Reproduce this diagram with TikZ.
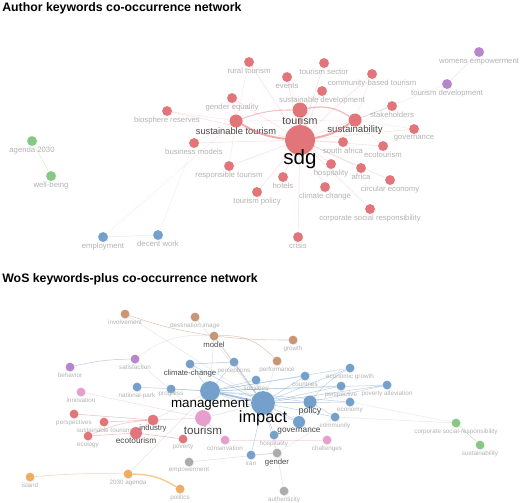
\documentclass[tikz,border=0pt]{standalone}
\usepackage{fontspec}
\setmainfont{Liberation Sans}
\usepackage{xcolor}
\usetikzlibrary{shadows}

\definecolor{kwred}{RGB}{224,104,108}
\definecolor{kwblue}{RGB}{104,152,200}
\definecolor{kwgreen}{RGB}{124,196,120}
\definecolor{kwpurple}{RGB}{178,122,200}
\definecolor{kworange}{RGB}{240,166,80}
\definecolor{kwbrown}{RGB}{196,140,104}
\definecolor{kwpink}{RGB}{230,150,200}
\definecolor{kwgray}{RGB}{165,165,165}
\definecolor{labgray}{RGB}{178,178,178}
\definecolor{labdark}{RGB}{70,70,70}

\tikzset{
  kw/.style={circle, inner sep=0pt, minimum size=#1, fill opacity=0.9,
    drop shadow={opacity=0.12, shadow xshift=0.5pt, shadow yshift=-0.5pt},
    label distance=-1.2pt},
  kw/.default=5.6pt,
  lab/.style={font=\fontsize{4.4}{5}\selectfont, text=labgray, inner sep=0.4pt},
  labs/.style={font=\fontsize{3.6}{4}\selectfont, text=labgray, inner sep=0.4pt},
  labm/.style={font=\fontsize{4.4}{5}\selectfont, text=labdark, inner sep=0.4pt},
  edge/.style={line width=0.3pt, draw opacity=#1},
  edge/.default=0.25,
  heading/.style={font=\bfseries\fontsize{7}{8}\selectfont, anchor=west, inner sep=0pt}
}

\begin{document}
\begin{tikzpicture}[x=0.02cm, y=-0.02cm]
  \useasboundingbox (0,0) rectangle (520,503);

  % ---------------- author keywords ----------------
  \node[heading] (title1) at (2,8) {Author keywords co-occurrence network};

  \node[kw=17pt, fill=kwred] (sdg) at (300,140) {};
  \node[kw=8.5pt, fill=kwred] (tou) at (300,110) {};
  \node[kw=7.4pt, fill=kwred] (sto) at (236,121) {};
  \node[kw=7.4pt, fill=kwred] (sus) at (355,120) {};
  \node[kw, fill=kwred, label={[lab]below:rural tourism}] (rur) at (249,62) {};
  \node[kw, fill=kwred, label={[lab]below:tourism sector}] (tse) at (324,63) {};
  \node[kw, fill=kwred, label={[lab]below:events}] (eve) at (287,77) {};
  \node[kw, fill=kwred, label={[lab]below:community-based tourism}] (cbt) at (372,74) {};
  \node[kw, fill=kwred, label={[lab]below:sustainable development}] (sde) at (322,91) {};
  \node[kw, fill=kwred, label={[lab]below:gender equality}] (geq) at (232,98) {};
  \node[kw, fill=kwred, label={[lab]below:biosphere reserves}] (bio) at (167,111) {};
  \node[kw, fill=kwred, label={[lab]below:stakeholders}] (stk) at (392,106) {};
  \node[kw, fill=kwred, label={[lab]below:governance}] (gov) at (414,129) {};
  \node[kw, fill=kwred, label={[lab]below:south africa}] (saf) at (343,142) {};
  \node[kw, fill=kwred, label={[lab]below:ecotourism}] (eco) at (383,146) {};
  \node[kw, fill=kwred, label={[lab]below:business models}] (bmo) at (194,143) {};
  \node[kw, fill=kwred, label={[lab]below:responsible tourism}] (rto) at (229,166) {};
  \node[kw, fill=kwred, label={[lab]below:tourism policy}] (tpo) at (257,192) {};
  \node[kw, fill=kwred, label={[lab]below:hotels}] (hot) at (283,177) {};
  \node[kw, fill=kwred, label={[lab]below:hospitality}] (hos) at (331,164) {};
  \node[kw, fill=kwred, label={[lab]below:africa}] (afr) at (361,168) {};
  \node[kw, fill=kwred, label={[lab]below:climate change}] (clc) at (325,187) {};
  \node[kw, fill=kwred, label={[lab]below:circular economy}] (cir) at (390,180) {};
  \node[kw, fill=kwred, label={[lab]below:corporate social responsibility}] (csr) at (370,209) {};
  \node[kw, fill=kwred, label={[lab]below:crisis}] (cri) at (298,237) {};
  \node[kw, fill=kwpurple, label={[lab]below:womens empowerment}] (wem) at (479,52) {};
  \node[kw, fill=kwpurple, label={[lab]below:tourism development}] (tde) at (447,84) {};
  \node[kw, fill=kwgreen, label={[lab]below:agenda 2030}] (a30) at (32,141) {};
  \node[kw, fill=kwgreen, label={[lab]below:well-being}] (wbe) at (51,176) {};
  \node[kw, fill=kwblue, label={[lab]below:employment}] (emp) at (103,237) {};
  \node[kw, fill=kwblue, label={[lab]below:decent work}] (dwo) at (158,235) {};

  % big labels
  \node[font=\fontsize{11.7}{12}\selectfont, text=black, inner sep=0pt] (sdgl) at (300,159) {sdg};
  \node[font=\fontsize{6.1}{7}\selectfont, text=labdark, inner sep=0pt] (toul) at (300,121) {tourism};
  \node[font=\fontsize{5.3}{6}\selectfont, text=labdark, inner sep=0pt] (stol) at (236,131) {sustainable tourism};
  \node[font=\fontsize{5.5}{6}\selectfont, text=labdark, inner sep=0pt] (susl) at (355,130) {sustainability};

  % links
  \foreach \n in {rur,tse,eve,cbt,sde,geq,bio,stk,gov,saf,eco,bmo,rto,tpo,hot,hos,afr,clc,cir,csr,cri}
    \draw[kwred, edge=0.22] (sdg) -- (\n);
  \draw[kwred, edge=0.15] (sto) -- (geq);
  \draw[kwred, edge=0.15] (sto) -- (bio);
  \draw[kwred, edge=0.15] (sto) -- (bmo);
  \draw[kwred, edge=0.15] (sto) -- (rto);
  \draw[kwred, edge=0.15] (sto) -- (rur);
  \draw[kwred, edge=0.15] (sus) -- (stk);
  \draw[kwred, edge=0.15] (sus) -- (gov);
  \draw[kwred, edge=0.15] (sus) -- (eco);
  \draw[kwred, edge=0.15] (sus) -- (cbt);
  \draw[kwred, edge=0.15] (tou) -- (sde);
  \draw[kwred, edge=0.15] (tou) -- (eve);
  \draw[kwred, edge=0.15] (sto) -- (sus);
  \draw[kwred, line width=1.3pt, draw opacity=0.6] (sdg) -- (tou);
  \draw[kwred, line width=1.1pt, draw opacity=0.55] (sdg) to[bend left=12] (sto);
  \draw[kwred, line width=1.1pt, draw opacity=0.55] (sdg) to[bend right=12] (sus);
  \draw[kwred, line width=0.7pt, draw opacity=0.45] (tou) to[bend left=22] (sus);
  \draw[kwred, line width=0.6pt, draw opacity=0.4] (tou) to[bend right=10] (sto);
  \draw[kwpurple, edge=0.2] (wem) -- (tde);
  \draw[kwpurple, edge=0.15] (tde) -- (sus);
  \draw[kwgreen, edge=0.3] (a30) -- (wbe);
  \draw[kwblue, edge=0.2] (emp) -- (dwo);
  \draw[kwred, edge=0.12] (emp) -- (sto);
  \draw[kwred, edge=0.12] (dwo) -- (bmo);

  % ---------------- keywords-plus ----------------
  \node[heading] (title2) at (2,279) {WoS keywords-plus co-occurrence network};

  \node[kw=13.6pt, fill=kwblue] (imp) at (263,403) {};
  \node[kw=11.3pt, fill=kwblue] (man) at (210,391) {};
  \node[kw=7.4pt, fill=kwblue] (pol) at (310,402) {};
  \node[kw=6.8pt, fill=kwblue] (gvn) at (299,422) {};
  \node[kw=9pt, fill=kwpink] (tsm) at (203,418) {};
  \node[kw=6.2pt, fill=kwred] (ind) at (153,420) {};
  \node[kw=6.8pt, fill=kwred] (ect) at (136,433) {};
  \node[kw=5pt, fill=kwbrown, label={[labm]below:model}] (mod) at (214,336) {};
  \node[kw=5pt, fill=kwbrown, label={[labs]below:involvement}] (inv) at (125,314) {};
  \node[kw=5pt, fill=kwbrown, label={[labs]below:destination image}] (dim) at (195,317) {};
  \node[kw=5pt, fill=kwbrown, label={[labs]below:growth}] (gro) at (293,340) {};
  \node[kw=5pt, fill=kwbrown, label={[labs]below:performance}] (prf) at (277,361) {};
  \node[kw=5pt, fill=kwpurple, label={[labs]below:behavior}] (beh) at (70,367) {};
  \node[kw=5pt, fill=kwpurple, label={[labs]below:satisfaction}] (sat) at (135,359) {};
  \node[kw=5pt, fill=kwblue, label={[labm]below:climate-change}] (ccg) at (190,364) {};
  \node[kw=5pt, fill=kwblue, label={[labs]below:perceptions}] (per) at (234,362) {};
  \node[kw=5pt, fill=kwblue, label={[labs]below:economic growth}] (egr) at (350,368) {};
  \node[kw=5pt, fill=kwblue, label={[labs]below:countries}] (cou) at (305,376) {};
  \node[kw=5pt, fill=kwblue, label={[labs]below:societies}] (soc) at (256,380) {};
  \node[kw=5pt, fill=kwblue, label={[labs]below:perspective}] (psp) at (341,386) {};
  \node[kw=5pt, fill=kwblue, label={[labs]below:poverty alleviation}] (pal) at (387,385) {};
  \node[kw=5pt, fill=kwblue, label={[labs]below:economy}] (ecn) at (350,402) {};
  \node[kw=5pt, fill=kwblue, label={[labs]below:community}] (com) at (335,417) {};
  \node[kw=5pt, fill=kwblue, label={[labs]below:national-park}] (npa) at (137,387) {};
  \node[kw=5pt, fill=kwblue, label={[labs, yshift=1.5pt]below:progress}] (pro) at (171,389) {};
  \node[kw=5pt, fill=kwblue, label={[labs]below:hospitality}] (hsp) at (274,435) {};
  \node[kw=5pt, fill=kwblue, label={[labs]below:iran}] (ira) at (251,455) {};
  \node[kw=5pt, fill=kwpink, label={[labs]below:innovation}] (inn) at (81,392) {};
  \node[kw=5pt, fill=kwpink, label={[labs]below:conservation}] (cns) at (225,440) {};
  \node[kw=5pt, fill=kwpink, label={[labs]below:challenges}] (cha) at (327,440) {};
  \node[kw=5pt, fill=kwred, label={[labs]below:perspectives}] (pes) at (74,414) {};
  \node[kw=5pt, fill=kwred, label={[labs]below:sustainable tourism}] (sut) at (104,422) {};
  \node[kw=5pt, fill=kwred, label={[labs]below:ecology}] (ecl) at (88,436) {};
  \node[kw=5pt, fill=kwred, label={[labs]below:poverty}] (pov) at (183,439) {};
  \node[kw=5pt, fill=kwgray, label={[labs]below:empowerment}] (epw) at (189,462) {};
  \node[kw=5pt, fill=kwgray, label={[labm]below:gender}] (gen) at (277,453) {};
  \node[kw=5pt, fill=kwgray, label={[labs]below:authenticity}] (aut) at (284,491) {};
  \node[kw=5pt, fill=kworange, label={[labs]below:island}] (isl) at (30,477) {};
  \node[kw=5pt, fill=kworange, label={[labs]below:2030 agenda}] (ag3) at (128,474) {};
  \node[kw=5pt, fill=kworange, label={[labs]below:politics}] (pls) at (180,489) {};
  \node[kw=5pt, fill=kwgreen, label={[labs]below:corporate social-responsibility}] (csp) at (456,423) {};
  \node[kw=5pt, fill=kwgreen, label={[labs]below:sustainability}] (sty) at (480,445) {};

  % big labels
  \node[font=\fontsize{9.3}{10}\selectfont, text=black, inner sep=0pt] (impl) at (263,418) {impact};
  \node[font=\fontsize{7.6}{8}\selectfont, text=black, inner sep=0pt] (manl) at (210,405) {management};
  \node[font=\fontsize{6.6}{7}\selectfont, text=labdark, inner sep=0pt] (tsml) at (203,430) {tourism};
  \node[font=\fontsize{5.1}{6}\selectfont, text=labdark, inner sep=0pt] (poll) at (310,411) {policy};
  \node[font=\fontsize{4.7}{5}\selectfont, text=labdark, inner sep=0pt] (gvnl) at (299,431) {governance};
  \node[font=\fontsize{4.4}{5}\selectfont, text=labdark, inner sep=0pt] (indl) at (153,428) {industry};
  \node[font=\fontsize{4.7}{5}\selectfont, text=labdark, inner sep=0pt] (ectl) at (136,441) {ecotourism};

  % blue links
  \foreach \n in {ccg,per,soc,cou,egr,psp,pal,ecn,com,pol,gvn,hsp,ira}
    \draw[kwblue, edge=0.45] (imp) -- (\n);
  \foreach \n in {ccg,per,npa,pro,soc,cou,egr,psp,pal,ecn,pol,gvn}
    \draw[kwblue, edge=0.4] (man) -- (\n);
  \draw[kwblue, line width=1pt, draw opacity=0.6] (man) -- (imp);
  \draw[kwblue, edge=0.5] (ccg) -- (per);
  \draw[kwblue, edge=0.4] (pol) -- (pal);
  \draw[kwblue, edge=0.4] (pol) to[bend left=10] (egr);
  \draw[kwblue, edge=0.4] (pol) -- (com);
  \draw[kwblue, edge=0.4] (pol) -- (gvn);
  % grey links
  \draw[kwgray, line width=0.6pt, draw opacity=0.4] (mod) -- (imp);
  \draw[kwgray, edge=0.35] (mod) -- (man);
  \draw[kwgray, edge=0.3] (dim) -- (imp);
  \draw[kwgray, edge=0.25] (inv) -- (imp);
  \draw[kwgray, edge=0.25] (sat) to[bend left=20] (mod);
  \draw[kwgray, edge=0.25] (sat) -- (tsm);
  \draw[kwgray, edge=0.35] (tsm) -- (imp);
  \draw[kwgray, edge=0.3] (ind) -- (man);
  \draw[kwgray, edge=0.3] (ag3) -- (man);
  \draw[kwgray, edge=0.35] (epw) -- (gen);
  \draw[kwgray, edge=0.35] (gen) -- (imp);
  \draw[kwgray, edge=0.3] (gen) -- (ira);
  \draw[kwgray, edge=0.3] (gen) -- (aut);
  \draw[kwgray, edge=0.25] (gen) -- (com);
  \draw[kwgray, edge=0.25] (ecn) -- (csp);
  \draw[kwgray, edge=0.25] (com) -- (csp);
  \draw[kwgray, edge=0.25] (ect) -- (pov);
  \draw[kwgray, edge=0.25] (prf) -- (imp);
  % brown links
  \draw[kwbrown, edge=0.5] (inv) to[bend right=5] (mod);
  \draw[kwbrown, edge=0.5] (mod) to[bend right=3] (gro);
  \draw[kwbrown, edge=0.5] (mod) to[bend left=25] (prf);
  % purple, pink, red, orange, green links
  \draw[kwpurple, edge=0.5] (beh) to[bend left=6] (sat);
  \draw[kwpink, edge=0.35] (inn) -- (tsm);
  \draw[kwpink, edge=0.35] (tsm) -- (cns);
  \draw[kwpink, edge=0.3] (cns) -- (cha);
  \draw[kwred, edge=0.45] (pes) -- (ind);
  \draw[kwred, edge=0.45] (sut) -- (ind);
  \draw[kwred, edge=0.4] (ecl) to[bend left=10] (ind);
  \draw[kwred, edge=0.45] (ecl) -- (ect);
  \draw[kwred, edge=0.4] (ect) -- (ind);
  \draw[kwred, edge=0.35] (ect) -- (pov);
  \draw[kwred, edge=0.3] (ind) -- (tsm);
  \draw[kworange, edge=0.5] (isl) to[bend left=3] (ag3);
  \draw[kworange, line width=0.8pt, draw opacity=0.6] (ag3) to[bend left=15] (pls);
  \draw[kwgreen, edge=0.5] (csp) -- (sty);
\end{tikzpicture}
\end{document}
